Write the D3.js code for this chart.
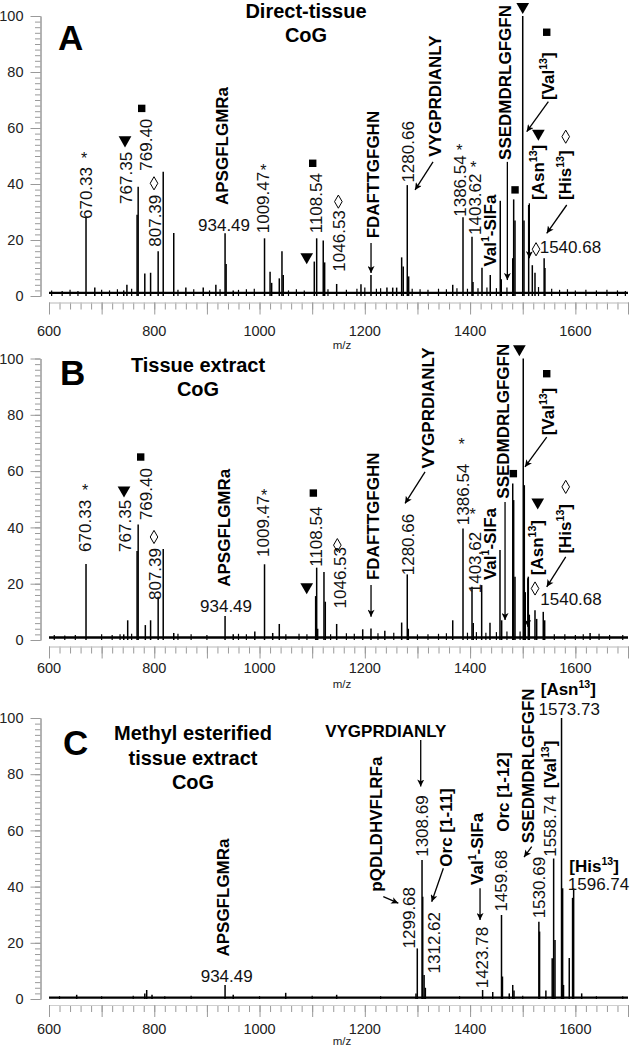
<!DOCTYPE html>
<html><head><meta charset="utf-8">
<script src="https://cdn.jsdelivr.net/npm/d3@7"></script>
<style>body{margin:0;background:#fff}</style>
</head><body>
<svg id="c" width="631" height="1050"></svg>
<script>
// ---------------- DATA ----------------
const mzDomain = [600, 1700];
const xTickLabels = [600, 800, 1000, 1200, 1400, 1600];
const yTickLabels = [0, 20, 40, 60, 80, 100];

// Panel A : Direct-tissue CoG  ([m/z, relative intensity %])
const peaksA = [[670.33,28],[687,3],[742,2],[748,4],[767.35,29],[769.40,39],[782,8],[793,8.3],[807.39,16],[817,44.4],[837,22.5],[860,3],[893,3],[917,4],[934.49,22.4],[936.5,11.4],[950,2],[1009.47,20.6],[1020,8.7],[1023,4.7],[1037.5,6.3],[1042.6,16],[1045,7.5],[1104,12.3],[1108.54,20.6],[1121,19.8],[1123.7,12],[1146.5,4.3],[1192.7,4.2],[1211.7,7.5],[1242,3],[1253,3],[1260.5,3],[1270,13.8],[1273,10.5],[1280.66,39.6],[1283.3,7],[1367,4],[1386.54,28.1],[1403.62,21.2],[1405.5,5],[1422.6,10.1],[1438.3,7.5],[1457.3,34],[1459.2,6],[1481,13.5],[1482.8,34.5],[1485.3,27],[1500,100],[1502.4,27],[1511.3,32.5],[1518.2,11],[1523.3,8.3],[1540.68,13.5],[1542.2,10]];
const noiseA = [[605,2],[625,1.8],[640,2.2],[655,1.8],[700,2.2],[715,2],[730,2.4],[757,2.6],[845,2.2],[875,2.4],[905,2],[925,2.4],[960,2.2],[975,2.4],[990,2.6],[1055,2],[1070,2.4],[1085,2],[1130,2.4],[1165,2.2],[1185,2.6],[1200,3],[1222,2.6],[1230,2.8],[1290,2.6],[1305,2.4],[1320,2.2],[1340,2.6],[1355,2.4],[1375,2.8],[1395,2.6],[1415,2.8],[1432,3],[1450,2.8],[1470,3],[1530,3.2],[1555,2.6],[1570,2.2],[1585,2.4],[1600,2],[1620,2.2],[1640,2],[1660,2.2],[1680,2],[1695,1.8]];
const baselineA = [[600,1.1],[1700,1.1]];
const massRotA = [["670.33",669.4,27.5],["767.35",745.4,32.9],["769.40",783.9,44.75],["807.39",801.4,17.6],["1009.47",1005.6,22.4],["1108.54",1107.3,22.4],["1046.53",1151,8.7],["1280.66",1282.7,40.5],["1386.54",1380.9,28.3],["1403.62",1409.4,21.8]];
const massHorA = [["934.49",932.5,23.2],["1540.68",1590.6,15.25]];
const pepRotA = [["APSGFLGMRa",928.1,32.5],["FDAFTTGFGHN",1214.7,20.6],["VYGPRDIANLY",1333.4,49.75],["Val^1-SIFa",1437.9,10.5],["SSEDMDRLGFGFN",1466.4,48.6],["[Val^13]",1548.1,70],["[Asn^13]",1529.1,34.3],["[His^13]",1580.4,34.3]];
const pepHorA = [];
const markersA = [["star",666.5,50.4],["tri",744.4,55.7],["sq",776.1,67],["dia",799.5,40.25],["star",1007.2,46.2],["sq",1101,47.4],["tri",1089.6,14],["dia",1149.7,33.7],["star",1379.6,53.3],["star",1406.2,47.4],["sq",1485.4,37.9],["tri",1500,103.3],["sq",1545.6,94.2],["tri",1529.7,58.1],["dia",1581.7,56.9],["dia",1525.3,16.7]];
const arrowsA = [[1211.8,18.9,1211.8,8.2],[1329.6,47.9,1295.4,37.9],[1470.8,47.9,1470.8,5.7],[1548.7,69.4,1507.6,58.7],[1512.6,33.1,1512.6,13.5],[1583.6,32.5,1545.6,22.4]];
const titleA = ["Direct-tissue","CoG"];

// Panel B : Tissue extract CoG
const peaksB = [[670.33,27],[742,2],[749.5,7],[767.35,31.6],[769.40,41],[783,5.3],[793,7],[807.39,15.4],[817,32.3],[837,2.5],[934.49,8.5],[950,2],[991,3],[1009.47,26.9],[1025,2.5],[1037.5,5.7],[1106.6,15.6],[1108.54,25.7],[1110.4,4],[1122.4,24.2],[1124.9,13.6],[1146.5,5.7],[1196,3.8],[1211.7,4.1],[1238,3.3],[1270,6.2],[1280.66,23.3],[1282.6,4],[1367,7],[1386.54,39.6],[1403.62,18.9],[1406,6],[1422,19.5],[1437.8,6.1],[1456.8,32],[1460,7],[1481,55.6],[1482.8,49.7],[1485.3,22.5],[1501,100],[1503,55],[1504.8,17],[1510.6,22.5],[1512.5,9],[1523.3,10.6],[1526.5,7.5],[1539,10],[1541.7,7],[1628,2.5]];
const noiseB = [[610,1.8],[630,1.6],[650,1.8],[700,2],[720,1.8],[735,2],[757,2.2],[845,2.2],[870,2],[900,1.8],[960,2.2],[975,2],[1050,2],[1075,2.2],[1090,2],[1135,2],[1165,2.4],[1180,2.2],[1225,2.4],[1255,2.6],[1300,2],[1320,2],[1340,2.2],[1355,2.4],[1395,2.6],[1412,2.8],[1430,2.6],[1450,2.8],[1470,3],[1495,3],[1560,2],[1580,2],[1600,1.8],[1615,2],[1645,2.2],[1665,1.8],[1690,1.8]];
const baselineB = [[600,0.9],[1700,0.9]];
const massRotB = [["670.33",669,31.3],["767.35",743.8,31.3],["769.40",783.9,42.6],["807.39",801.4,14.2],["1009.47",1007.2,29.5],["1108.54",1107.9,26],["1046.53",1152.9,11.2],["1280.66",1282.7,23],["1386.54",1387.2,40.8],["1403.62",1409.4,16.6]];
const massHorB = [["934.49",936.3,10],["1540.68",1591.7,12.4]];
const pepRotB = [["APSGFLGMRa",933.1,18.9],["FDAFTTGFGHN",1215.1,21.3],["VYGPRDIANLY",1319.2,60.9],["Val^1-SIFa",1437.9,21.3],["SSEDMDRLGFGFN",1463.2,50.2],["[Val^13]",1548.1,72.7],["[Asn^13]",1526.5,23],["[His^13]",1580.4,30.7]];
const pepHorB = [];
const markersB = [["star",668.4,54.4],["tri",742.5,53.2],["sq",774.2,65],["dia",799.5,36.6],["star",1008.5,52.6],["sq",1102.2,52.2],["tri",1089.6,18.9],["dia",1147.8,33.7],["star",1384.1,70.9],["star",1405,46.1],["sq",1482.2,59.1],["tri",1493.6,103.4],["sq",1545.6,94.6],["tri",1528.5,49],["dia",1581.7,54.4],["dia",1523.4,18.3]];
const arrowsB = [[1211.8,19.5,1211.8,8.3],[1314.4,59.7,1276.4,48.5],[1466.4,49,1466.4,7.1],[1545.6,72.1,1504.3,61.5],[1509.5,21.9,1509.5,4.7],[1581.7,29.5,1545.6,18.9]];
const titleB = ["Tissue extract","CoG"];

// Panel C : Methyl esterified tissue extract CoG
const peaksC = [[652.6,1.5],[782,2],[785.6,3.2],[795.7,1.5],[934.49,5],[950,1.5],[1049.7,2.2],[1146.5,1.5],[1297.2,2],[1299.68,18],[1308.69,49.5],[1310,36.4],[1312.62,8.5],[1315,4],[1423.78,3.2],[1443,2.5],[1459.68,29.9],[1461.5,8],[1474.4,2],[1481,5],[1483.4,3],[1530.69,27.5],[1532,24],[1544,3],[1556,14.5],[1558.74,50],[1561.3,21],[1573.73,100],[1575.8,39.4],[1577.5,5],[1588.4,14.6],[1594.7,36],[1596.74,39.4],[1612,2]];
const noiseC = [[620,1],[700,1],[760,1.2],[820,1],[870,1.2],[1000,1],[1100,1.2],[1230,1],[1380,1],[1500,1.2],[1640,1],[1690,1]];
const baselineC = [[600,0.5],[1700,0.5]];
const massRotC = [["1299.68",1284.4,18],["1308.69",1309.3,50.6],["1312.62",1331.9,9.1],["1423.78",1422.1,3.8],["1459.68",1458.3,31.1],["1530.69",1531.3,28.7],["1558.74",1551.8,50.6]];
const massHorC = [["934.49",937.6,6.2],["1573.73",1588.3,101.1],["1596.74",1644,38.8]];
const pepRotC = [["APSGFLGMRa",931.2,15.1],["pQDLDHVFLRFa",1220.9,38.2],["Orc [1-11]",1353.9,47.1],["Val^1-SIFa",1412.6,40.6],["Orc [1-12]",1463.2,59.5],["SSEDMDRLGFGFN",1510.7,55.4],["[Val^13]",1551.8,75]];
const pepHorC = [["VYGPRDIANLY",1239.9,93.3],["[Asn^13]",1586.6,108.2],["[His^13]",1635.5,45.3]];
const markersC = [];
const arrowsC = [[1306.2,92.2,1306.2,75.6],[1235.1,36.4,1263.6,34.1],[1349.2,46.5,1327.1,34.6],[1418.9,39.4,1418.9,28.1],[1517.1,54.2,1502.5,50.5]];
const titleC = ["Methyl esterified","tissue extract","CoG"];

// ---------------- DRAWING ----------------
const FONT = '"Liberation Sans", Arial, Helvetica, sans-serif';
const svg = d3.select("#c").attr("font-family", FONT);
svg.append("defs").append("marker")
  .attr("id","ah").attr("viewBox","0 0 10 10").attr("refX",10).attr("refY",5)
  .attr("markerWidth",9).attr("markerHeight",7).attr("markerUnits","userSpaceOnUse")
  .attr("orient","auto")
  .append("path").attr("d","M0,0 L10,5 L0,10 L2.5,5 Z").attr("fill","#000");

function rich(textSel, str, fs){
  const parts = str.split(/\^(\d+)/);
  let raised = false;
  parts.forEach((p,i)=>{
    if(p === "") return;
    if(i % 2 === 1){
      textSel.append("tspan").attr("font-size", fs*0.62).attr("dy", -fs*0.42).text(p);
      raised = true;
    } else {
      const t = textSel.append("tspan").text(p);
      if(raised){ t.attr("dy", fs*0.42); raised = false; }
    }
  });
}

const panels = [
  {peaks:peaksA, noise:noiseA, base:baselineA, massRot:massRotA, massHor:massHorA, pepRot:pepRotA, pepHor:pepHorA, markers:markersA, arrows:arrowsA,
   title:titleA, letter:"A", y0:296, y100:16, axisY:302.5, labelY:336, mzY:349, letterX:58, letterY:50, titleX:306, titleY:18, titleDY:24},
  {peaks:peaksB, noise:noiseB, base:baselineB, massRot:massRotB, massHor:massHorB, pepRot:pepRotB, pepHor:pepHorB, markers:markersB, arrows:arrowsB,
   title:titleB, letter:"B", y0:640, y100:358.5, axisY:646.5, labelY:673, mzY:688, letterX:60, letterY:385, titleX:198, titleY:372, titleDY:23.5},
  {peaks:peaksC, noise:noiseC, base:baselineC, massRot:massRotC, massHor:massHorC, pepRot:pepRotC, pepHor:pepHorC, markers:markersC, arrows:arrowsC,
   title:titleC, letter:"C", y0:999, y100:718, axisY:1005, labelY:1034, mzY:1045, letterX:63, letterY:755, titleX:193, titleY:740, titleDY:24.5}
];

const LFS = 17;   // peak label font size
panels.forEach(p => {
  const g = svg.append("g");
  const x = d3.scaleLinear().domain(mzDomain).range([49, 628]);
  const y = d3.scaleLinear().domain([0,100]).range([p.y0, p.y100]);

  // y axis (minor + major)
  const ya = g.append("g").attr("transform","translate(40.5,0)");
  ya.append("g").call(d3.axisLeft(y).tickValues(d3.range(0,101,2)).tickSize(5.5).tickSizeOuter(0).tickFormat(""));
  ya.append("g").call(d3.axisLeft(y).tickValues(yTickLabels).tickSize(10).tickSizeOuter(0).tickPadding(7).tickFormat(d3.format("d")));
  ya.selectAll("path,line").attr("stroke","#9a9a9a").attr("stroke-width",1);
  ya.selectAll("text").attr("font-size",14.5).attr("fill","#222").attr("font-family",FONT);

  // x axis
  const xa = g.append("g").attr("transform",`translate(0,${p.axisY})`);
  xa.append("g").call(d3.axisBottom(x).tickValues(d3.range(600,1701,20)).tickSize(7).tickSizeOuter(0).tickFormat(""));
  xa.append("g").call(d3.axisBottom(x).tickValues(d3.range(600,1701,100)).tickSize(12).tickSizeOuter(0).tickFormat(""));
  xa.selectAll("path").attr("stroke","#cfcfcf");
  xa.selectAll("line").attr("stroke","#9a9a9a");
  g.selectAll("text.xl").data(xTickLabels).join("text").attr("class","xl")
    .attr("x",d=>x(d)).attr("y",p.labelY).attr("text-anchor","middle")
    .attr("font-size",14.5).attr("fill","#222").text(d=>d);
  g.append("text").attr("x",342).attr("y",p.mzY).attr("text-anchor","middle")
    .attr("font-size",11.5).attr("fill","#222").text("m/z");

  // baseline + noise + peaks
  g.append("path").datum(p.base).attr("fill","none").attr("stroke","#000").attr("stroke-width",2.4)
    .attr("d", d3.line().x(d=>x(d[0])).y(d=>y(d[1])));
  g.selectAll("line.nz").data(p.noise).join("line").attr("class","nz")
    .attr("x1",d=>x(d[0])).attr("x2",d=>x(d[0])).attr("y1",y(0)).attr("y2",d=>y(d[1]))
    .attr("stroke","#000").attr("stroke-width",1.2);
  g.selectAll("line.pk").data(p.peaks).join("line").attr("class","pk")
    .attr("x1",d=>x(d[0])).attr("x2",d=>x(d[0])).attr("y1",y(0)).attr("y2",d=>y(d[1]))
    .attr("stroke","#000").attr("stroke-width",1.5);

  // panel letter + title
  g.append("text").attr("x",p.letterX).attr("y",p.letterY).attr("font-size",35).attr("font-weight","bold").text(p.letter);
  p.title.forEach((t,i)=>{
    g.append("text").attr("x",p.titleX).attr("y",p.titleY + i*p.titleDY).attr("text-anchor","middle")
      .attr("font-size",20).attr("font-weight","bold").text(t);
  });

  // rotated mass labels
  p.massRot.forEach(d=>{
    const t = g.append("text").attr("transform",`translate(${x(d[1]) + 0.36*LFS},${y(d[2])}) rotate(-90)`)
      .attr("font-size",LFS).attr("fill","#111");
    rich(t, d[0], LFS);
  });
  p.massHor.forEach(d=>{
    const t = g.append("text").attr("x",x(d[1])).attr("y",y(d[2])).attr("text-anchor","middle")
      .attr("font-size",LFS).attr("fill","#111");
    rich(t, d[0], LFS);
  });
  p.pepRot.forEach(d=>{
    const t = g.append("text").attr("transform",`translate(${x(d[1]) + 0.36*LFS},${y(d[2])}) rotate(-90)`)
      .attr("font-size",LFS).attr("font-weight","bold").attr("fill","#000");
    rich(t, d[0], LFS);
  });
  p.pepHor.forEach(d=>{
    const t = g.append("text").attr("x",x(d[1])).attr("y",y(d[2])).attr("text-anchor","middle")
      .attr("font-size",LFS).attr("font-weight","bold").attr("fill","#000");
    rich(t, d[0], LFS);
  });

  // markers
  const sym = {
    tri: d3.symbol(d3.symbolTriangle, 70)(),
    sq: d3.symbol(d3.symbolSquare, 55)(),
    dia: d3.symbol(d3.symbolDiamond, 50)()
  };
  p.markers.forEach(d=>{
    const cx = x(d[1]), cy = y(d[2]);
    if(d[0] === "star"){
      g.append("text").attr("x",cx).attr("y",cy).attr("dy","0.58em").attr("text-anchor","middle")
        .attr("font-size",16).attr("fill","#111").text("*");
    } else if(d[0] === "tri"){
      g.append("path").attr("d",sym.tri).attr("transform",`translate(${cx},${cy}) rotate(180)`).attr("fill","#000");
    } else if(d[0] === "sq"){
      g.append("path").attr("d",sym.sq).attr("transform",`translate(${cx},${cy})`).attr("fill","#000");
    } else {
      g.append("path").attr("d",sym.dia).attr("transform",`translate(${cx},${cy})`)
        .attr("fill","none").attr("stroke","#000").attr("stroke-width",1);
    }
  });

  // arrows
  g.selectAll("line.ar").data(p.arrows).join("line").attr("class","ar")
    .attr("x1",d=>x(d[0])).attr("y1",d=>y(d[1])).attr("x2",d=>x(d[2])).attr("y2",d=>y(d[3]))
    .attr("stroke","#000").attr("stroke-width",1.3).attr("marker-end","url(#ah)");
});
</script>
</body></html>
